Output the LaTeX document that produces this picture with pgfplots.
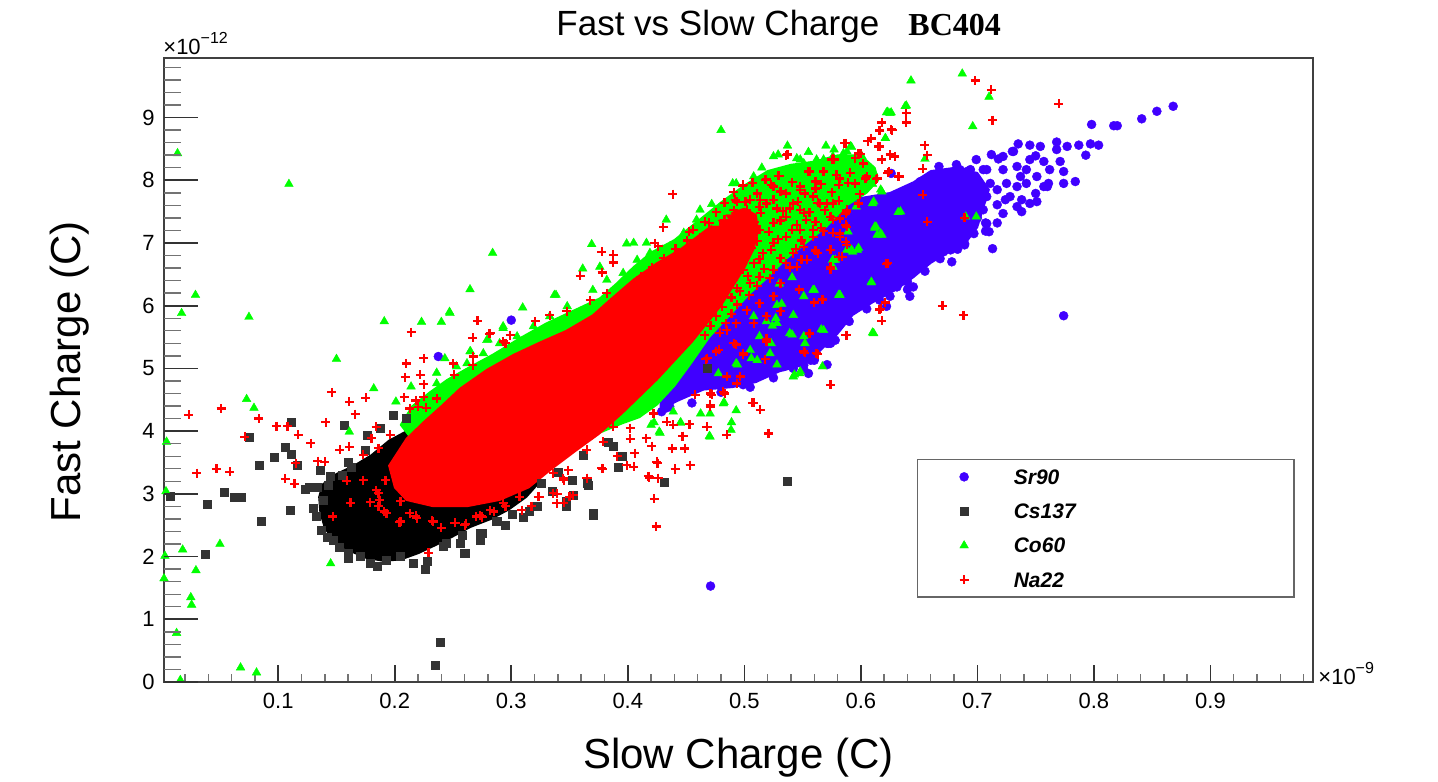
\documentclass[border=0pt]{standalone}
\usepackage{fontspec}
\setmainfont{Liberation Sans}
\newfontfamily\serifbc{Liberation Serif}
\usepackage{pgfplots}
\pgfplotsset{compat=1.18}
\definecolor{srblue}{RGB}{64,0,255}
\definecolor{csgray}{RGB}{51,51,51}
\definecolor{cogreen}{RGB}{0,255,0}
\definecolor{nared}{RGB}{255,0,0}
\begin{document}
\begin{tikzpicture}
\useasboundingbox (0pt,0pt) rectangle (719pt,390.5pt);
\begin{axis}[
  at={(82pt,49.5pt)}, anchor=south west, scale only axis,
  width=574.5pt, height=312pt,
  xmin=0.002, xmax=0.988, ymin=0, ymax=9.95,
  axis on top,
  axis line style={draw=black!75, line width=0.7pt},
  scaled ticks=false,
  xtick={0.1,0.2,0.3,0.4,0.5,0.6,0.7,0.8,0.9},
  minor xtick={0.02,0.04,0.06,0.08,0.12,0.14,0.16,0.18,0.22,0.24,0.26,0.28,0.32,0.34,0.36,0.38,0.42,0.44,0.46,0.48,0.52,0.54,0.56,0.58,0.62,0.64,0.66,0.68,0.72,0.74,0.76,0.78,0.82,0.84,0.86,0.88,0.92,0.94,0.96,0.98},
  ytick=\empty,
  tick pos=left, tick align=inside,
  major tick length=8.5pt, minor tick length=4pt,
  major tick style={line width=0.8pt, black!80},
  minor tick style={line width=0.7pt, black!55},
  /pgf/number format/assume math mode=true,
  tick label style={font=\fontsize{11}{13}\selectfont},
  xticklabel style={anchor=north, inner sep=0pt, yshift=-5.5pt},
  legend style={at={(axis description cs:0.6551,0.3574)}, anchor=north west,
    draw=black!60, line width=0.7pt, fill=white,
    inner xsep=0pt, inner ysep=0pt, row sep=0pt, column sep=0pt,
    nodes={inner sep=0pt, minimum height=17.17pt, text width=140pt, align=left, text depth=0pt,
      font=\bfseries\itshape\fontsize{10.5}{12}\selectfont},
    cells={anchor=west}},
  legend image code/.code={\path (-23pt,0pt) (24.5pt,0pt);
    \draw[mark repeat=2,mark phase=2,#1] plot coordinates {(-1pt,0pt) (0pt,0pt) (1pt,0pt)};},
]
% ---------------- Sr90 ----------------
\addplot[fill=srblue, draw=srblue, line width=0.8pt, line join=round, forget plot] coordinates {
(0.428,4.35) (0.445,4.50) (0.465,4.66) (0.49,4.70) (0.51,4.78) (0.53,4.95) (0.55,5.05) (0.565,5.28)
(0.58,5.55) (0.593,5.85) (0.61,6.05) (0.63,6.25) (0.645,6.45) (0.66,6.68) (0.675,6.85) (0.69,7.0)
(0.70,7.25) (0.705,7.55) (0.71,7.85) (0.70,8.12) (0.68,8.2) (0.66,8.15) (0.645,7.97) (0.625,7.8)
(0.60,7.72) (0.585,7.62) (0.57,7.5) (0.555,7.25) (0.54,7.02) (0.52,6.72) (0.50,6.45) (0.48,6.1)
(0.46,5.75) (0.44,5.35) (0.428,4.9)
} -- cycle;
\addplot[only marks, mark=*, mark size=2.25pt, mark options={draw=srblue, fill=srblue, line width=0.2pt}] coordinates {
(0.798,8.89) (0.817,8.87) (0.820,8.87) (0.841,8.98) (0.854,9.10) (0.868,9.18)
(0.735,8.58) (0.745,8.56) (0.754,8.54) (0.768,8.61) (0.777,8.54) (0.787,8.56) (0.797,8.58) (0.804,8.56)
(0.793,8.40) (0.768,8.49) (0.750,8.39) (0.731,8.46) (0.712,8.41) (0.718,8.34) (0.699,8.33) (0.682,8.25)
(0.667,8.22) (0.705,8.17) (0.691,8.14) (0.722,8.17) (0.734,8.22) (0.742,8.17) (0.757,8.30) (0.771,8.30)
(0.774,8.14) (0.784,7.98) (0.761,7.95) (0.751,8.06) (0.760,7.90) (0.737,8.06) (0.734,7.90) (0.717,7.85)
(0.728,7.74) (0.738,7.69) (0.750,7.79) (0.708,7.74) (0.700,7.90) (0.688,8.01) (0.674,8.11) (0.738,7.50)
(0.722,7.47) (0.717,7.61) (0.708,7.31) (0.710,7.18) (0.700,7.40) (0.713,6.91) (0.688,7.26) (0.689,6.97)
(0.678,6.70) (0.671,6.86) (0.662,6.81) (0.651,6.62) (0.642,6.15) (0.645,6.30) (0.631,6.30) (0.622,5.99)
(0.616,6.09) (0.597,6.04) (0.588,5.83) (0.574,5.40) (0.774,5.84) (0.625,7.63) (0.634,7.77) (0.651,7.98)
(0.626,8.11) (0.517,4.95) (0.542,5.00) (0.551,5.05) (0.560,5.13) (0.572,5.40) (0.615,6.15) (0.640,6.26)
(0.652,6.62) (0.689,6.99) (0.707,7.19) (0.707,7.32) (0.689,7.42) (0.433,4.37) (0.448,4.60) (0.465,4.76)
(0.499,4.74) (0.516,4.95) (0.534,5.03) (0.545,5.16) (0.551,4.98) (0.557,5.13) (0.571,5.40) (0.571,5.06)
(0.588,5.77) (0.300,5.77) (0.2374,5.19) (0.471,1.53) (0.436,4.39) (0.429,4.31) (0.518,4.93) (0.555,4.92)
(0.6966,7.85) (0.691,8.01) (0.677,8.01) (0.708,8.17) (0.730,8.46) (0.774,7.95) (0.751,7.66) (0.717,7.32)
(0.682,7.47) (0.674,7.53) (0.694,7.63) (0.705,7.53) (0.724,7.69) (0.734,7.58) (0.745,7.63) (0.757,7.90)
(0.692,7.40) (0.685,7.08) (0.677,6.89) (0.672,7.18) (0.659,7.24) (0.668,7.42) (0.742,7.95) (0.725,7.95)
(0.711,7.95) (0.702,7.69) (0.745,8.33) (0.762,8.17) (0.722,8.38) (0.694,8.17) (0.685,8.17)
(0.455,4.45) (0.48,4.62) (0.505,4.70) (0.525,4.85) (0.56,5.15) (0.578,5.45) (0.59,5.75) (0.605,5.95)
(0.625,6.15) (0.64,6.38) (0.655,6.55) (0.668,6.75) (0.683,6.9) (0.697,7.15)
};
\addlegendentry{Sr90}
% ---------------- Cs137 ----------------
\addplot[fill=black, draw=black, line width=0.8pt, line join=round, forget plot] coordinates {
(0.138,3.15) (0.15,3.32) (0.165,3.45) (0.18,3.62) (0.195,3.85) (0.215,4.05) (0.25,4.1) (0.30,3.8)
(0.32,3.45) (0.325,3.2) (0.313,2.95) (0.298,2.75) (0.283,2.6) (0.265,2.47) (0.25,2.32) (0.235,2.18)
(0.22,2.05) (0.205,1.95) (0.19,1.93) (0.175,1.98) (0.16,2.1) (0.148,2.25) (0.14,2.45) (0.136,2.7) (0.135,2.95)
} -- cycle;
\addplot[only marks, mark=square*, mark size=2pt, mark options={draw=csgray, fill=csgray, line width=0.2pt}] coordinates {
(0.1115,4.15) (0.075,3.90) (0.1064,3.75) (0.1115,3.63) (0.0964,3.58) (0.0835,3.45) (0.1164,3.45)
(0.1564,4.10) (0.1765,3.93) (0.1874,4.05) (0.199,4.25) (0.136,3.37) (0.1625,3.43) (0.123,3.08)
(0.1333,3.10) (0.155,3.29) (0.0537,3.03) (0.062,2.95) (0.0683,2.95) (0.0071,2.96) (0.0394,2.84)
(0.110,2.74) (0.0858,2.57) (0.1296,2.77) (0.133,2.64) (0.1373,2.42) (0.142,2.31) (0.0371,2.04)
(0.160,2.06) (0.160,1.97) (0.179,1.89) (0.226,1.80) (0.260,2.06) (0.275,2.37) (0.288,2.56)
(0.2388,0.64) (0.2351,0.26) (0.3956,3.60) (0.392,3.42) (0.3876,3.76) (0.383,3.83) (0.362,3.62)
(0.352,3.22) (0.3656,3.14) (0.3532,2.98) (0.3475,2.88) (0.326,3.17) (0.370,2.66) (0.431,3.18)
(0.5364,3.20) (0.322,2.80) (0.3155,2.73) (0.301,2.67) (0.2874,2.56) (0.2737,2.38) (0.2583,2.34)
(0.2445,2.21) (0.2603,2.06) (0.468,5.0) (0.143,3.14) (0.139,2.90) (0.147,2.26) (0.170,2.00)
(0.193,1.95) (0.205,2.0) (0.216,1.89) (0.242,2.16) (0.256,2.21) (0.273,2.26) (0.34,3.35) (0.335,3.05)
(0.31,2.62) (0.295,2.50) (0.228,1.93) (0.185,1.85) (0.152,2.15) (0.145,3.28) (0.16,3.5) (0.175,3.7)
(0.21,4.2) (0.127,3.11) (0.365,3.17) (0.347,2.80) (0.370,2.69)
};
\addlegendentry{Cs137}
% ---------------- Co60 ----------------
\addplot[fill=cogreen, draw=cogreen, line width=0.8pt, line join=round, forget plot] coordinates {
(0.205,4.1) (0.215,4.4) (0.23,4.62) (0.245,4.82) (0.262,5.0) (0.284,5.22) (0.307,5.48) (0.33,5.72)
(0.353,5.92) (0.376,6.12) (0.39,6.35) (0.405,6.62) (0.42,6.85) (0.44,7.05) (0.46,7.35) (0.48,7.65)
(0.50,7.92) (0.52,8.15) (0.54,8.25) (0.56,8.3) (0.58,8.4) (0.60,8.4) (0.612,8.2) (0.615,8.0)
(0.605,7.8) (0.588,7.6) (0.571,7.27) (0.553,7.0) (0.536,6.75) (0.52,6.45) (0.505,6.2) (0.49,5.9)
(0.47,5.5) (0.455,5.1) (0.44,4.72) (0.425,4.42) (0.41,4.22) (0.395,4.12) (0.36,3.85) (0.33,3.6)
(0.28,3.4) (0.23,3.5)
} -- cycle;
\addplot[only marks, mark=triangle*, mark size=2.5pt, mark options={draw=cogreen, fill=cogreen, line width=0.2pt}] coordinates {
(0.0136,8.43) (0.1092,7.94) (0.284,6.84) (0.029,6.17) (0.0171,5.88) (0.0749,5.82) (0.150,5.15)
(0.0729,4.51) (0.0792,4.37) (0.0042,3.83) (0.161,3.99) (0.0037,3.04) (0.018,2.11) (0.050,2.20)
(0.0028,2.01) (0.0294,1.78) (0.002,1.65) (0.145,1.89) (0.025,1.35) (0.0257,1.23) (0.0128,0.78)
(0.0019,0.25) (0.016,0.03) (0.0677,0.23) (0.0814,0.15)
(0.182,4.68) (0.191,5.75) (0.223,5.74) (0.240,5.74) (0.247,5.90) (0.201,4.47) (0.214,4.71) (0.236,4.76)
(0.243,5.16) (0.265,5.27) (0.280,5.46) (0.293,5.64) (0.2646,6.26) (0.3613,6.59) (0.369,6.98) (0.3098,5.97)
(0.3384,6.17) (0.2474,5.88) (0.293,5.67) (0.279,5.45) (0.2646,5.27) (0.253,5.03) (0.236,4.93) (0.337,6.17)
(0.370,6.25) (0.382,6.41) (0.396,6.52) (0.408,6.73) (0.419,6.84) (0.436,6.94) (0.448,7.16) (0.459,7.37)
(0.476,7.32) (0.482,7.42) (0.499,7.69) (0.516,7.95) (0.534,8.11) (0.551,8.27) (0.568,8.33) (0.585,8.43)
(0.319,5.67) (0.333,5.83) (0.348,5.99) (0.305,5.51) (0.290,5.40) (0.276,5.24) (0.262,5.08)
(0.472,7.62) (0.493,7.95) (0.508,8.06) (0.529,8.41) (0.545,8.35) (0.562,8.33) (0.576,8.38) (0.448,7.05)
(0.430,6.89) (0.416,7.0) (0.405,7.0) (0.422,6.78) (0.462,7.26) (0.485,7.50) (0.480,8.80) (0.537,8.55)
(0.399,6.99) (0.433,7.37) (0.462,7.53) (0.490,7.95) (0.525,8.38) (0.548,8.33) (0.577,8.49) (0.591,8.54)
(0.621,8.67) (0.625,9.07) (0.555,8.45) (0.57,8.55) (0.515,8.2) (0.376,6.62)
(0.643,9.59) (0.687,9.70) (0.710,9.33) (0.639,9.19) (0.696,8.86) (0.622,9.08) (0.626,9.08) (0.621,8.67)
(0.592,8.53) (0.655,8.34) (0.611,8.12) (0.610,7.94) (0.617,7.85) (0.610,7.63) (0.632,7.49) (0.699,7.42)
(0.613,7.26) (0.618,7.13) (0.589,7.18) (0.592,6.89) (0.598,6.92) (0.576,6.73) (0.576,6.62) (0.609,6.38)
(0.582,6.17) (0.610,5.57) (0.601,8.38) (0.588,8.46) (0.582,8.33) (0.623,9.09) (0.638,9.18)
(0.634,7.50) (0.612,7.26) (0.597,6.89) (0.578,6.73) (0.581,6.17) (0.560,6.25) (0.542,5.85) (0.527,5.80)
(0.566,5.62) (0.541,5.54) (0.523,5.40) (0.552,5.40) (0.505,5.29) (0.494,5.06) (0.511,5.13) (0.528,5.06)
(0.548,4.95) (0.567,5.03) (0.543,4.90) (0.611,5.56) (0.690,7.42) (0.542,4.87) (0.539,5.56) (0.551,5.51)
(0.522,5.24) (0.506,5.16) (0.493,5.08) (0.528,5.72) (0.513,5.51) (0.508,5.83) (0.528,6.01)
(0.524,5.68) (0.519,5.75) (0.532,6.03) (0.551,6.15) (0.559,6.25) (0.582,6.17) (0.609,6.37) (0.588,6.89)
(0.593,6.86) (0.614,7.13) (0.617,7.15) (0.612,7.24) (0.611,7.66) (0.618,7.82) (0.611,8.12) (0.596,7.58)
(0.576,6.73) (0.568,5.61) (0.541,6.45) (0.53,6.35)
(0.4625,4.28) (0.4706,4.28) (0.493,4.33) (0.4826,4.46) (0.489,4.14) (0.4886,4.02) (0.470,3.92) (0.4454,4.14)
(0.427,3.99) (0.4225,4.14) (0.439,4.31) (0.5472,4.92) (0.4777,4.92) (0.482,4.44) (0.4706,3.91)
(0.4277,3.97) (0.445,4.13) (0.42,4.10)
};
\addlegendentry{Co60}
% ---------------- Na22 ----------------
\addplot[fill=nared, draw=nared, line width=0.8pt, line join=round, forget plot] coordinates {
(0.195,3.45) (0.20,3.10) (0.21,2.90) (0.233,2.80) (0.262,2.80) (0.29,2.90) (0.315,3.1) (0.335,3.40)
(0.355,3.68) (0.375,3.95) (0.395,4.28) (0.41,4.55) (0.425,4.82) (0.44,5.12) (0.455,5.42) (0.468,5.72)
(0.48,6.0) (0.49,6.3) (0.50,6.6) (0.508,6.9) (0.512,7.2) (0.51,7.45) (0.50,7.55) (0.485,7.45)
(0.465,7.18) (0.445,6.9) (0.425,6.68) (0.405,6.42) (0.385,6.1) (0.37,5.85) (0.347,5.6) (0.325,5.42)
(0.302,5.22) (0.279,4.98) (0.256,4.68) (0.24,4.4) (0.225,4.15) (0.21,3.88)
} -- cycle;
\addplot[only marks, mark=+, mark size=2.25pt, mark options={draw=nared, line width=1.1pt}] coordinates {
(0.0234,4.26) (0.051,4.36) (0.0303,3.33) (0.047,3.40) (0.0583,3.35) (0.0715,3.91) (0.0835,4.20)
(0.0986,4.08) (0.108,4.08) (0.117,3.94) (0.128,3.81) (0.115,3.49) (0.134,3.52) (0.140,3.51) (0.106,3.24)
(0.114,3.16) (0.141,4.14) (0.146,4.62) (0.161,4.47) (0.166,4.27) (0.175,4.53) (0.153,3.70) (0.161,3.75)
(0.173,3.62) (0.214,5.58) (0.210,5.08) (0.225,5.16) (0.222,4.90) (0.209,4.86) (0.225,4.75) (0.208,4.54)
(0.218,4.49) (0.227,4.37) (0.271,5.76) (0.282,5.56) (0.267,5.49) (0.295,5.40) (0.267,5.05) (0.250,5.08)
(0.251,4.90) (0.162,2.86) (0.147,2.64) (0.179,2.87) (0.205,2.56) (0.218,2.65) (0.233,2.56) (0.240,2.46)
(0.252,2.54) (0.260,2.50) (0.229,2.06) (0.159,3.21) (0.173,3.22) (0.186,3.01) (0.193,2.69) (0.186,2.80)
(0.205,2.88) (0.273,2.66) (0.285,2.72) (0.293,2.85)
(0.225,4.55) (0.213,4.36) (0.220,4.39) (0.236,4.52) (0.180,3.89) (0.184,4.07) (0.196,3.94) (0.186,3.73)
(0.184,3.06) (0.192,3.22) (0.187,2.90) (0.191,2.72) (0.204,2.55) (0.213,2.69) (0.219,2.61) (0.232,2.57)
(0.270,2.64) (0.275,2.63) (0.282,2.74) (0.295,2.80) (0.307,2.95) (0.317,2.80) (0.323,2.95) (0.336,3.01)
(0.345,3.22) (0.350,2.95) (0.365,3.25) (0.339,2.85)
(0.2514,2.54) (0.2611,2.52) (0.2746,2.64) (0.309,2.74) (0.3175,2.80) (0.324,2.95) (0.3395,3.0) (0.345,2.86)
(0.353,2.98) (0.3647,3.25) (0.3784,3.40) (0.3447,3.25) (0.336,3.33) (0.349,3.38) (0.391,3.60) (0.399,3.46)
(0.405,3.43) (0.406,3.65) (0.4205,3.76) (0.4157,3.89) (0.402,3.88) (0.4185,3.26) (0.4262,3.25) (0.4225,2.92)
(0.4242,2.48) (0.4254,3.49) (0.438,3.72) (0.4405,3.40) (0.449,3.72) (0.4534,3.46) (0.4477,3.92) (0.453,4.11)
(0.439,4.10) (0.4334,4.15) (0.4677,4.07) (0.4849,3.94) (0.5206,3.97) (0.5078,4.45) (0.5135,4.34) (0.4834,4.60)
(0.4706,4.42) (0.4577,4.58) (0.472,4.58) (0.574,4.74) (0.4963,4.87) (0.422,4.28) (0.402,4.05) (0.3876,4.07)
(0.379,3.83) (0.3647,3.70)
(0.4385,7.78) (0.4305,7.25) (0.4526,7.18) (0.3776,6.86) (0.3876,6.81) (0.3876,6.69) (0.359,6.48) (0.378,6.53)
(0.382,6.20) (0.281,5.55) (0.2674,5.19) (0.299,5.53) (0.293,5.43) (0.3204,5.75) (0.3332,5.85) (0.3475,5.91)
(0.3676,6.09)
(0.4986,7.91) (0.5186,8.02) (0.537,8.41) (0.530,8.07) (0.556,8.14) (0.568,8.14) (0.576,8.34) (0.581,7.93)
(0.561,7.87) (0.548,7.90) (0.536,7.79) (0.5135,7.69) (0.505,7.69) (0.4935,7.66) (0.528,7.55) (0.539,7.55)
(0.551,7.48) (0.565,7.63) (0.574,7.42) (0.588,7.50) (0.559,7.21) (0.576,7.16) (0.588,7.26) (0.545,7.29)
(0.423,6.996) (0.426,6.95) (0.462,7.08) (0.470,7.32) (0.486,7.29) (0.496,7.40) (0.502,7.42) (0.492,7.69)
(0.499,7.93) (0.518,8.01) (0.529,8.07) (0.536,8.40) (0.555,8.14) (0.561,7.98) (0.575,8.33) (0.579,8.09)
(0.586,8.59) (0.595,8.35) (0.602,8.27) (0.605,8.06) (0.614,8.03) (0.598,8.43) (0.606,8.62) (0.609,8.66)
(0.616,8.79) (0.618,8.92) (0.626,8.81) (0.616,8.54) (0.618,8.33) (0.625,8.41) (0.629,8.38) (0.624,8.14)
(0.632,8.06) (0.622,6.67) (0.616,5.94) (0.618,5.76) (0.621,6.05) (0.587,5.53) (0.563,5.23) (0.552,5.25)
(0.556,5.55) (0.560,6.05) (0.567,6.10) (0.547,6.26) (0.531,5.91) (0.519,5.47) (0.499,5.22) (0.518,5.15)
(0.574,6.58) (0.581,6.78) (0.588,6.97) (0.587,7.47) (0.576,7.37) (0.566,7.24) (0.559,7.10) (0.551,6.94)
(0.542,6.84) (0.536,6.68) (0.525,6.57) (0.513,6.46) (0.505,6.36) (0.496,6.23) (0.531,6.36) (0.525,6.15)
(0.513,6.04) (0.502,5.93) (0.493,5.72) (0.485,5.61) (0.478,5.30) (0.467,5.15) (0.491,5.40) (0.508,5.72)
(0.519,5.83) (0.545,6.62) (0.554,6.73) (0.563,6.84) (0.574,6.89) (0.582,7.10) (0.548,7.21) (0.536,7.10)
(0.525,7.00) (0.516,6.84) (0.508,6.68) (0.499,6.57) (0.491,6.41) (0.482,6.25) (0.473,6.09) (0.465,5.93)
(0.548,7.53) (0.536,7.42) (0.525,7.32) (0.513,7.21) (0.505,7.05) (0.496,6.89) (0.488,6.73) (0.479,6.57)
(0.536,7.79) (0.525,7.69) (0.513,7.58) (0.502,7.53) (0.491,7.42) (0.479,7.26) (0.468,7.05) (0.456,6.89)
(0.445,6.73) (0.436,6.57) (0.525,7.90) (0.548,7.85) (0.559,7.74) (0.571,7.63) (0.553,7.37) (0.542,7.63)
(0.507,7.96) (0.523,7.93) (0.541,7.97) (0.566,7.94) (0.589,7.96) (0.491,7.81) (0.511,7.79) (0.531,7.82)
(0.552,7.79) (0.575,7.81) (0.599,7.78) (0.483,7.64) (0.501,7.66) (0.519,7.63) (0.546,7.66) (0.563,7.64)
(0.581,7.67) (0.476,7.49) (0.491,7.52) (0.514,7.48) (0.533,7.51) (0.556,7.49) (0.569,7.52) (0.466,7.34)
(0.483,7.37) (0.509,7.33) (0.531,7.36) (0.561,7.34) (0.456,7.21) (0.474,7.19) (0.494,7.22) (0.521,7.18)
(0.541,7.21) (0.568,7.19) (0.451,7.04) (0.486,7.06) (0.511,7.03) (0.529,7.06) (0.549,7.04) (0.441,6.91)
(0.466,6.88) (0.506,6.92) (0.523,6.89) (0.544,6.91) (0.561,6.88) (0.431,6.76) (0.451,6.74) (0.498,6.77)
(0.513,6.74) (0.531,6.76) (0.549,6.73) (0.421,6.61) (0.446,6.59) (0.494,6.62) (0.517,6.59) (0.539,6.61)
(0.411,6.46) (0.484,6.44) (0.503,6.47) (0.522,6.44) (0.481,6.31) (0.494,6.28) (0.511,6.32) (0.476,6.16)
(0.489,6.13) (0.504,6.17) (0.466,6.01) (0.481,5.98) (0.494,6.02) (0.461,5.86) (0.476,5.83) (0.489,5.87)
(0.456,5.71) (0.471,5.68) (0.484,5.72) (0.451,5.56) (0.466,5.53) (0.479,5.57)
(0.556,5.56) (0.588,5.53) (0.562,5.24) (0.551,5.27) (0.519,5.43) (0.499,5.24) (0.493,5.38) (0.476,5.27)
(0.468,5.16) (0.485,4.87) (0.471,4.60) (0.4706,4.39) (0.458,4.58) (0.482,4.63) (0.4935,4.76) (0.521,3.96)
(0.507,4.45) (0.468,4.07) (0.447,3.92) (0.438,3.73) (0.449,3.73) (0.425,3.51) (0.4405,3.39) (0.4535,3.46)
(0.4177,3.28) (0.426,3.25) (0.3776,3.41)
(0.698,9.59) (0.712,9.44) (0.770,9.22) (0.713,8.96) (0.639,9.07) (0.639,8.92) (0.627,8.80)
(0.616,8.80) (0.609,8.67) (0.587,8.59) (0.615,8.54) (0.600,8.42) (0.625,8.40)
(0.602,8.26) (0.655,8.56) (0.657,8.40) (0.653,8.18) (0.633,8.06) (0.623,8.12) (0.613,8.02)
(0.604,8.03) (0.591,8.12) (0.595,7.95) (0.582,8.03) (0.577,8.33) (0.653,7.77) (0.598,7.63) (0.588,7.53)
(0.576,7.63) (0.582,7.39) (0.587,7.29) (0.582,7.15) (0.587,7.02) (0.584,6.78)
(0.574,6.62) (0.623,6.68) (0.657,7.34) (0.689,7.40) (0.621,6.05) (0.617,5.95) (0.618,5.76)
(0.670,6.00) (0.688,5.85)
};
\addlegendentry{Na22}
\end{axis}
% y ticks with their own length
\begin{axis}[
  at={(82pt,49.5pt)}, anchor=south west, scale only axis,
  width=574.5pt, height=312pt,
  xmin=0.002, xmax=0.988, ymin=0, ymax=9.95,
  axis line style={draw=none},
  xtick=\empty, ytick={0,1,2,3,4,5,6,7,8,9},
  minor ytick={0.2,0.4,...,9.8},
  tick pos=left, tick align=inside,
  major tick length=17pt, minor tick length=8.5pt,
  major tick style={line width=0.8pt, black!80},
  minor tick style={line width=0.7pt, black!55},
  /pgf/number format/assume math mode=true,
  tick label style={font=\fontsize{11}{13}\selectfont},
  yticklabel style={anchor=east, inner sep=0pt, xshift=-4.5pt},
]
\end{axis}
\node[anchor=base west, inner sep=0pt, font=\fontsize{17.5}{20}\selectfont] at (278pt,372.5pt) {Fast vs Slow Charge};
\node[anchor=base west, inner sep=0pt, font=\serifbc\bfseries\fontsize{16}{18}\selectfont] at (454pt,372.5pt) {BC404};
\node[anchor=base, inner sep=0pt, font=\fontsize{21}{24}\selectfont] at (369.25pt,6.5pt) {Slow Charge (C)};
\node[anchor=base, rotate=90, inner sep=0pt, font=\fontsize{21}{24}\selectfont] at (40pt,204.5pt) {Fast Charge (C)};
\node[anchor=base west, inner sep=0pt, font=\fontsize{11}{13}\selectfont] at (81.5pt,363pt) {×10\raisebox{0.5em}{\fontsize{8}{9}\selectfont −12}};
\node[anchor=base west, inner sep=0pt, font=\fontsize{11}{13}\selectfont] at (659pt,48.5pt) {×10\raisebox{0.5em}{\fontsize{8}{9}\selectfont −9}};
\end{tikzpicture}
\end{document}
